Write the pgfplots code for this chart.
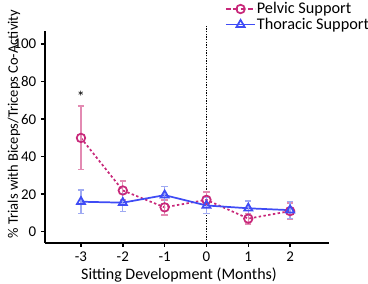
\documentclass[border=0pt]{standalone}
\usepackage{pgfplots}
\pgfplotsset{compat=1.18}
\usepackage{fontspec}
\setmainfont{Carlito}
\definecolor{pelv}{HTML}{C8287A}
\definecolor{pelvE}{HTML}{E38AB2}
\definecolor{thor}{HTML}{3F4CF5}
\definecolor{thorE}{HTML}{9FAAF2}
\begin{document}
\begin{tikzpicture}[x=0.75pt,y=0.75pt]
\path[use as bounding box] (0,0) rectangle (368,284);
\begin{axis}[
  at={(45*0.75pt,41*0.75pt)}, anchor=south west,
  scale only axis, width=284*0.75pt, height=212*0.75pt,
  xmin=-3.86, xmax=2.93, ymin=-6, ymax=107,
  axis lines=left, axis line style={black, line width=1.3pt, -},
  xtick={-3,-2,-1,0,1,2}, ytick={0,20,40,60,80,100},
  tick style={black, line width=1.1pt}, tick align=outside,
  major tick length=3pt,
  tick label style={font=\fontsize{11.2}{12}\selectfont},
  /pgf/number format/assume math mode=true,
  clip=false,
  legend style={at={(0.633,1.14)}, anchor=north west, draw=none, fill=none,
    font=\fontsize{12.2}{13}\selectfont, row sep=0.5pt, inner sep=0pt,
    nodes={inner sep=0.6pt}},
  legend cell align=left,
  legend image code/.code={
    \draw[#1, mark=none] (0pt,0pt) -- (22pt,0pt);
    \draw[#1, solid] plot coordinates {(11pt,0pt)};
  },
]
\draw[black, densely dotted, line width=1pt] (axis cs:0,-6) -- (axis cs:0,109.5);
\addplot[pelv, line width=1.3pt, dash pattern=on 1.8pt off 1.8pt, mark=o, mark size=3.2pt,
  mark options={solid, pelv, line width=1.3pt},
  legend image post style={dash pattern=on 3.5pt off 2pt},
  error bars/.cd, y dir=both, y explicit,
  error bar style={pelvE, line width=1pt, solid}, error mark options={pelvE, line width=1pt, rotate=90, mark size=2.4pt}]
  coordinates {
  (-3,50) +- (0,17)
  (-2,22) +- (0,5)
  (-1,13) +- (0,4)
  (0,17) +- (0,4.2)
  (1,7) +- (0,2.8)
  (2,11) +- (0,4.3)
};
\addlegendentry{Pelvic Support}
\addplot[thor, line width=1.3pt, solid, mark=triangle, mark size=3.5pt,
  mark options={solid, thor, line width=1.3pt},
  error bars/.cd, y dir=both, y explicit,
  error bar style={thorE, line width=1pt, solid}, error mark options={thorE, line width=1pt, rotate=90, mark size=2.4pt}]
  coordinates {
  (-3,16) +- (0,6.3)
  (-2,15.5) +- (0,4.8)
  (-1,19.5) +- (0,4.6)
  (0,14) +- (0,4.2)
  (1,12.5) +- (0,3.8)
  (2,11.5) +- (0,4.5)
};
\addlegendentry{Thoracic Support}
\node[font=\fontsize{12}{13}\selectfont] at (axis cs:-3,72) {*};
\end{axis}
\node[font=\fontsize{12}{13}\selectfont] at (179,284-275) {Sitting Development (Months)};
\node[font=\fontsize{10.9}{12}\selectfont, rotate=90] at (14,284-124) {\% Trials with Biceps/Triceps Co-Activity};
\end{tikzpicture}
\end{document}
